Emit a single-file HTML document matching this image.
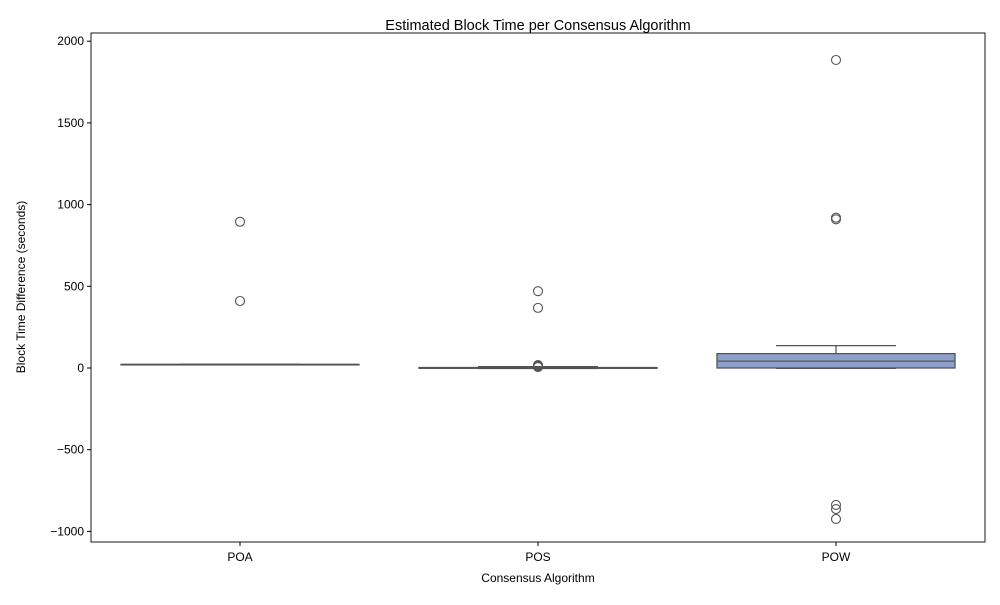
<!DOCTYPE html>
<html><head><meta charset="utf-8"><style>
body{margin:0;background:#fff;font-family:"Liberation Sans","DejaVu Sans",sans-serif}
</style></head><body>
<svg id="chart" width="1000" height="600" xmlns="http://www.w3.org/2000/svg">
<text x="538" y="30" text-anchor="middle" font-size="14.5">Estimated Block Time per Consensus Algorithm</text>
<text x="538" y="582" text-anchor="middle" font-size="12">Consensus Algorithm</text>
<text transform="translate(25,287) rotate(-90)" text-anchor="middle" font-size="12">Block Time Difference (seconds)</text>
<g id="marks"></g>
<rect x="91" y="33" width="894" height="509" fill="none" stroke="#000" stroke-width="0.9"/>
</svg>
<script>
const categories=["POA","POS","POW"];
const q1=[22,-2,0];
const median=[22,0,42];
const q3=[22,3,88];
const whiskLo=[22,-3,-2];
const whiskHi=[22,8,137];
const outliers=[[895,410],[470,368,18,14,10,8,6],[1885,920,910,-838,-863,-924]];
const colors=["#66c2a5","#fc8d62","#8da0cb"];
const yTicks=[-1000,-500,0,500,1000,1500,2000];
const NS="http://www.w3.org/2000/svg";
const g=document.getElementById('marks');
const y=v=>368-v*0.1634;
const xc=i=>240+i*298;
function mk(t,a){const e=document.createElementNS(NS,t);for(const k in a)e.setAttribute(k,a[k]);g.appendChild(e);return e;}
yTicks.forEach(t=>{
  const l=mk('line',{x1:87,x2:91,y1:y(t),y2:y(t),stroke:'#000'});
  
  
  const tx=mk('text',{x:84,y:y(t)+4,'text-anchor':'end','font-size':12});
  tx.textContent=t<0?'\u2212'+(-t):t;
  
  
});
categories.forEach((c,i)=>{
  const x=xc(i);
  const tk=mk('line',{x1:x,x2:x,y1:542,y2:546,stroke:'#000'});
  
  
  const tx=mk('text',{x:x,y:561,'text-anchor':'middle','font-size':12});
  tx.textContent=c;
  
  
  const s='#555';
  const w1=mk('line',{x1:x,x2:x,y1:y(q3[i]),y2:y(whiskHi[i]),stroke:s,'stroke-width':1.3});
  
  
  const w2=mk('line',{x1:x,x2:x,y1:y(q1[i]),y2:y(whiskLo[i]),stroke:s,'stroke-width':1.3});
  
  
  [whiskHi[i],whiskLo[i]].forEach(v=>{
    const cp=mk('line',{x1:x-60,x2:x+60,y1:y(v),y2:y(v),stroke:s,'stroke-width':1.3});
    
    
  });
  const top=y(q3[i]),bot=y(q1[i]);
  const b=mk('rect',{x:x-119,y:top,width:238,height:Math.max(bot-top,0.5),fill:colors[i],stroke:s,'stroke-width':1.3});
  
  
  const m=mk('line',{x1:x-119,x2:x+119,y1:y(median[i]),y2:y(median[i]),stroke:s,'stroke-width':1.3});
  
  
  outliers[i].forEach(v=>{
    const o=mk('circle',{cx:x,cy:y(v),r:4.5,fill:'none',stroke:s,'stroke-width':1.1});
    
    
  });
});
</script>
</body></html>
